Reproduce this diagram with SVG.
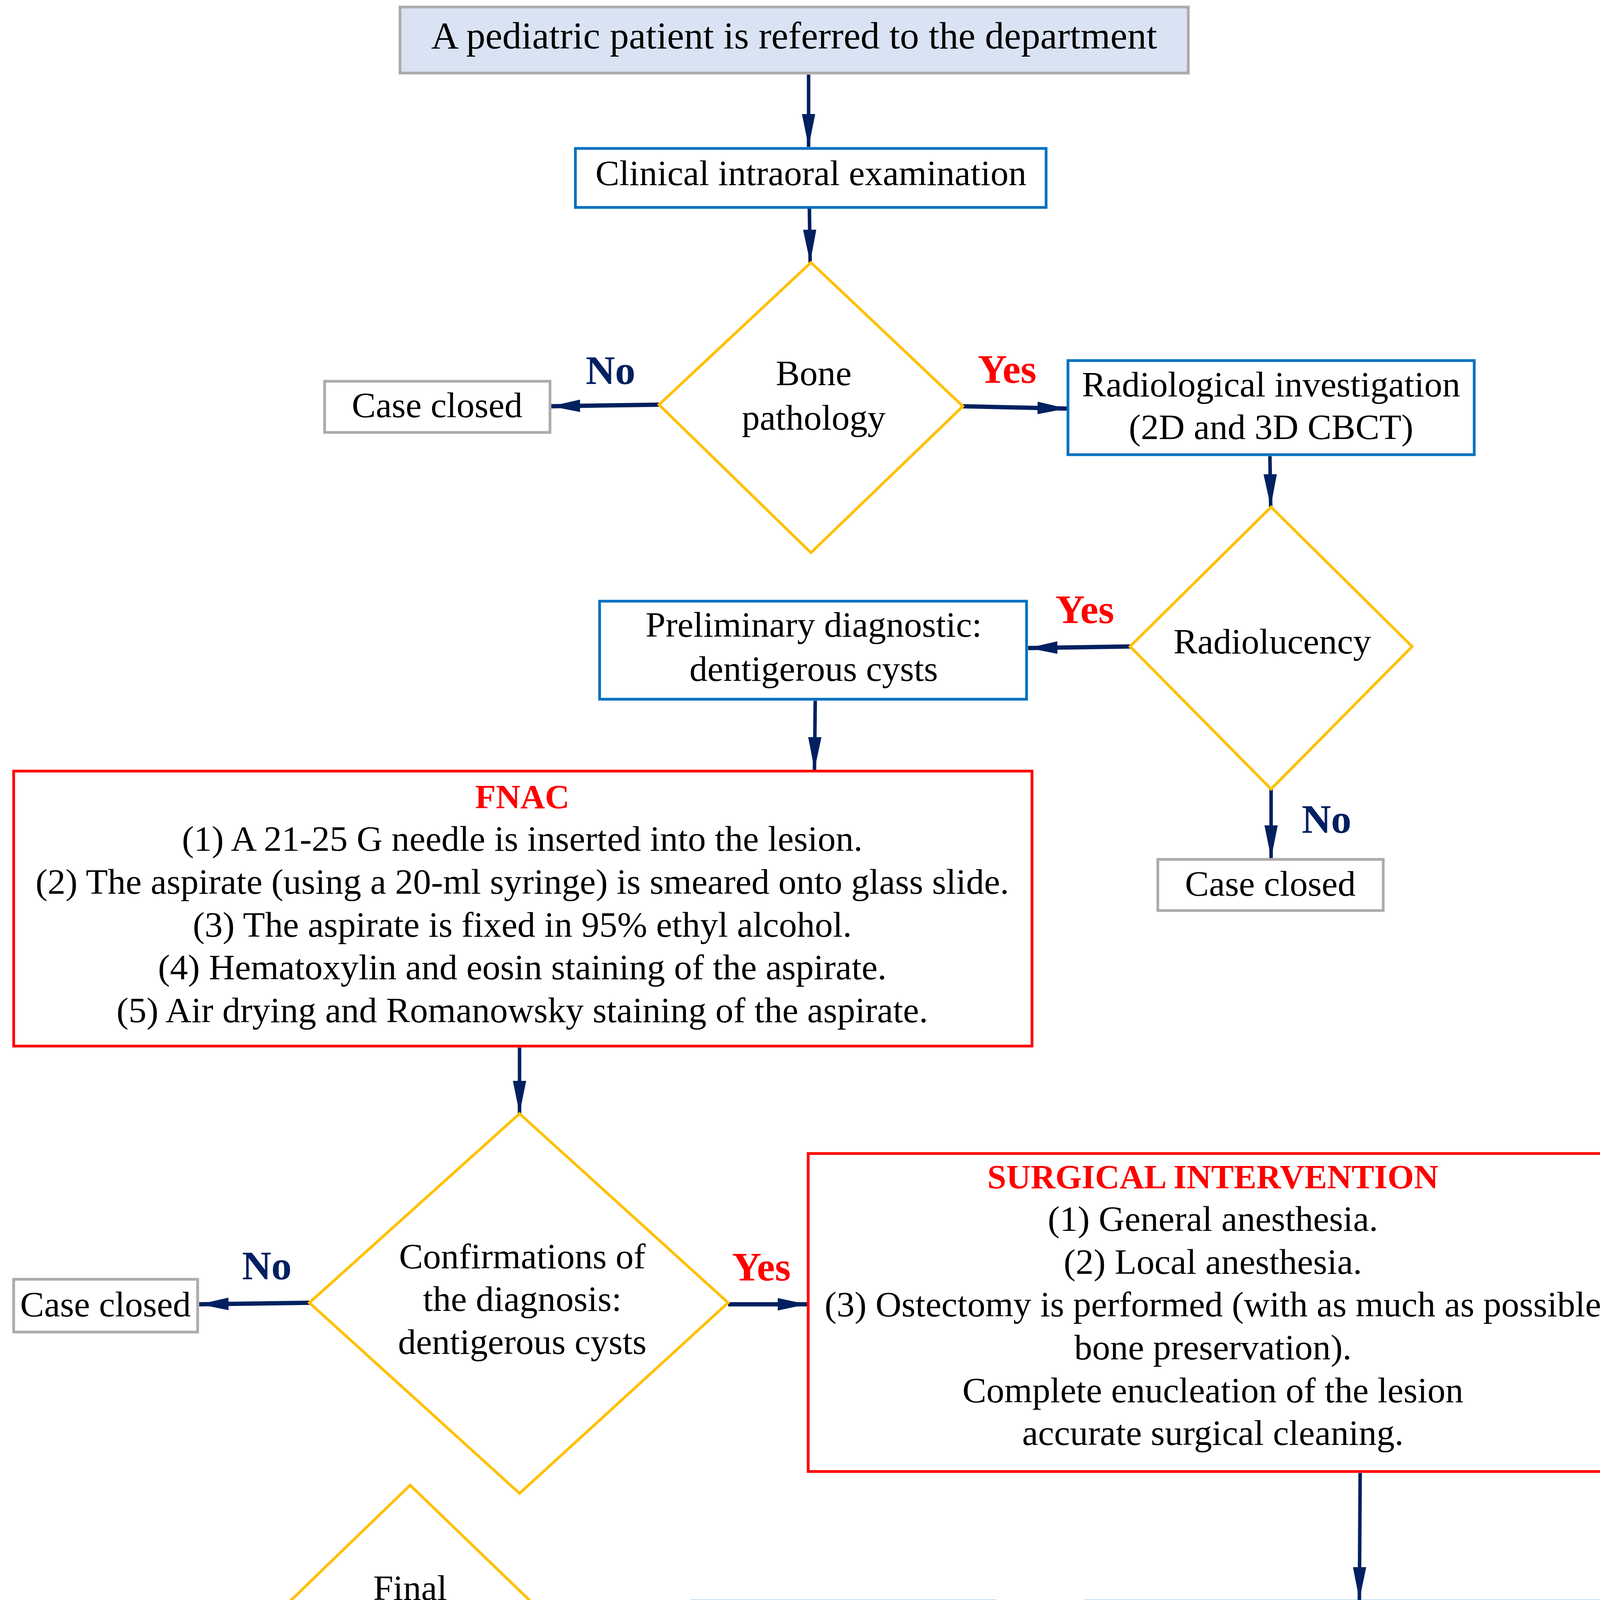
<svg xmlns="http://www.w3.org/2000/svg" width="4177" height="5521" viewBox="0 0 4177 5521">
<style>
.bb{fill:#FFFFFF;stroke:#0070C0;stroke-width:7}
.bg{fill:#FFFFFF;stroke:#AEAAAA;stroke-width:7}
.bf{fill:#DAE3F3;stroke:#AEAAAA;stroke-width:7}
.br{fill:#FFFFFF;stroke:#FF0000;stroke-width:7}
.dia{fill:#FFFFFF;stroke:#FFC000;stroke-width:7}
.t{font-family:"Liberation Serif","Times New Roman",serif;font-size:92px;text-anchor:middle;fill:#000000}
.hd{font-family:"Liberation Serif","Times New Roman",serif;font-size:87px;font-weight:bold;text-anchor:middle;fill:#FF0000}
.no{font-family:"Liberation Serif","Times New Roman",serif;font-size:104px;font-weight:bold;text-anchor:middle;fill:#002060}
.yes{font-family:"Liberation Serif","Times New Roman",serif;font-size:104px;font-weight:bold;text-anchor:middle;fill:#FF0000}
.cn{stroke:#002060;stroke-width:9;fill:none;marker-end:url(#narrow)}
.ct{stroke:#002060;stroke-width:11;fill:none;marker-end:url(#tri)}
</style>
<defs>
<marker id="narrow" markerUnits="userSpaceOnUse" markerWidth="90" markerHeight="40" refX="84" refY="17" orient="auto">
<path d="M0,0 L84,17 L0,34 Z" fill="#002060"/>
</marker>
<marker id="tri" markerUnits="userSpaceOnUse" markerWidth="80" markerHeight="36" refX="75" refY="16" orient="auto">
<path d="M0,0 L75,16 L0,32 Z" fill="#002060"/>
</marker>
</defs>

<g id="connectors">
<line class="cn" x1="2070" y1="191" x2="2070" y2="376"/>
<line class="cn" x1="2072" y1="534" x2="2074" y2="672"/>
<line class="ct" x1="1687" y1="1036" x2="1410" y2="1040"/>
<line class="ct" x1="2465" y1="1040" x2="2731" y2="1046"/>
<line class="cn" x1="3251" y1="1168" x2="3253" y2="1298"/>
<line class="ct" x1="2893" y1="1655" x2="2632" y2="1659"/>
<line class="cn" x1="3254" y1="2020" x2="3254" y2="2197"/>
<line class="cn" x1="2087" y1="1794" x2="2085" y2="1971"/>
<line class="cn" x1="1330" y1="2682" x2="1330" y2="2851"/>
<line class="ct" x1="792" y1="3335" x2="510" y2="3339"/>
<line class="ct" x1="1864" y1="3339" x2="2066" y2="3339"/>
<line class="cn" x1="3482" y1="3771" x2="3480" y2="4096"/>
<line class="ct" x1="2777" y1="4287" x2="2551" y2="4290"/>
<line class="ct" x1="1769" y1="4287" x2="1556" y2="4290"/>
<line class="ct" x1="545" y1="4290" x2="368" y2="4293"/>
<polyline class="cn" points="1050,4775 1050,4865 584,4863 586,4956"/>
<line class="ct" x1="1086" y1="5079" x2="1249" y2="5079"/>
<line class="ct" x1="2366" y1="4962" x2="2497" y2="4962"/>
<line class="ct" x1="3668" y1="4962" x2="3845" y2="4955"/>
<text class="no" x="1563" y="983">No</text>
<text class="yes" x="2578" y="980">Yes</text>
<text class="yes" x="2777" y="1595">Yes</text>
<text class="no" x="3396" y="2132">No</text>
<text class="no" x="683" y="3275">No</text>
<text class="yes" x="1949" y="3278">Yes</text>
<text class="no" x="474" y="4230">No</text>
<text class="yes" x="718" y="4828">Yes</text>
<text class="yes" x="3717" y="4867">Yes</text>
</g>

<g id="n-start">
<rect class="bf" x="1024" y="18" width="2018" height="169"/>
<text class="t" x="2033" y="124" style="font-size:98px">A pediatric patient is referred to the department</text>
</g>

<g id="n-clinical">
<rect class="bb" x="1473" y="380" width="1205" height="151"/>
<text class="t" x="2076" y="474">Clinical intraoral examination</text>
</g>

<g id="d-bone">
<polygon class="dia" points="2076,672 2465,1040 2076,1415 1687,1036"/>
<text class="t" x="2083" y="986">Bone</text>
<text class="t" x="2083" y="1100">pathology</text>
</g>

<g id="n-closed1">
<rect class="bg" x="831" y="976" width="577" height="131"/>
<text class="t" x="1119" y="1068">Case closed</text>
</g>

<g id="n-radio">
<rect class="bb" x="2734" y="923" width="1040" height="241"/>
<text class="t" x="3254" y="1015">Radiological investigation</text>
<text class="t" x="3254" y="1124">(2D and 3D CBCT)</text>
</g>

<g id="d-radiolucency">
<polygon class="dia" points="3254,1298 3615,1655 3254,2020 2893,1655"/>
<text class="t" x="3257" y="1673">Radiolucency</text>
</g>

<g id="n-prelim">
<rect class="bb" x="1535" y="1539" width="1093" height="251"/>
<text class="t" x="2083" y="1630">Preliminary diagnostic:</text>
<text class="t" x="2083" y="1743">dentigerous cysts</text>
</g>

<g id="n-closed2">
<rect class="bg" x="2964" y="2200" width="577" height="131"/>
<text class="t" x="3252" y="2293">Case closed</text>
</g>

<g id="n-fnac">
<rect class="br" x="35" y="1974" width="2607" height="704"/>
<text class="hd" x="1337" y="2069">FNAC</text>
<text class="t" x="1337" y="2178">(1) A 21-25 G needle is inserted into the lesion.</text>
<text class="t" x="1337" y="2288">(2) The aspirate (using a 20-ml syringe) is smeared onto glass slide.</text>
<text class="t" x="1337" y="2398">(3) The aspirate is fixed in 95% ethyl alcohol.</text>
<text class="t" x="1337" y="2507">(4) Hematoxylin and eosin staining of the aspirate.</text>
<text class="t" x="1337" y="2617">(5) Air drying and Romanowsky staining of the aspirate.</text>
</g>

<g id="d-confirm">
<polygon class="dia" points="1330,2851 1864,3335 1330,3823 792,3335"/>
<text class="t" x="1337" y="3247">Confirmations of</text>
<text class="t" x="1337" y="3356">the diagnosis:</text>
<text class="t" x="1337" y="3466">dentigerous cysts</text>
</g>

<g id="n-closed3">
<rect class="bg" x="35" y="3275" width="471" height="135"/>
<text class="t" x="270" y="3370">Case closed</text>
</g>

<g id="n-surgical">
<rect class="br" x="2069" y="2953" width="2069" height="814"/>
<text class="hd" x="3105" y="3042">SURGICAL INTERVENTION</text>
<text class="t" x="3105" y="3151">(1) General anesthesia.</text>
<text class="t" x="3105" y="3261">(2) Local anesthesia.</text>
<text class="t" x="3105" y="3370">(3) Ostectomy is performed (with as much as possible</text>
<text class="t" x="3105" y="3480">bone preservation).</text>
<text class="t" x="3105" y="3590">Complete enucleation of the lesion</text>
<text class="t" x="3105" y="3699">accurate surgical cleaning.</text>
</g>

<g id="n-lesion">
<rect class="bb" x="2780" y="4099" width="1369" height="244"/>
<text class="t" x="3466" y="4195">Lesion is collected and immersed in</text>
<text class="t" x="3466" y="4304">10% formaldehyde solution.</text>
</g>

<g id="n-histo">
<rect class="bb" x="1772" y="4099" width="775" height="244"/>
<text class="t" x="2158" y="4195">Histopathological</text>
<text class="t" x="2158" y="4304">examination</text>
</g>

<g id="d-final">
<polygon class="dia" points="1050,3802 1556,4290 1050,4775 545,4290"/>
<text class="t" x="1050" y="4096">Final</text>
<text class="t" x="1050" y="4205">confirmations of</text>
<text class="t" x="1050" y="4315">the diagnosis of</text>
<text class="t" x="1050" y="4424">dentigerous cysts</text>
</g>

<g id="n-closed4">
<rect class="bg" x="53" y="4163" width="311" height="255"/>
<text class="t" x="209" y="4255">Case</text>
<text class="t" x="209" y="4361">closed</text>
</g>

<g id="n-clinreexam">
<rect class="bb" x="46" y="4959" width="1036" height="244"/>
<text class="t" x="566" y="5051">Clinical reexamination,</text>
<text class="t" x="566" y="5160">9 months after the surgery</text>
</g>

<g id="n-radreexam">
<rect class="bb" x="1252" y="4853" width="1111" height="445"/>
<text class="t" x="1807" y="4944">Radiological reexamination,</text>
<text class="t" x="1807" y="5054">9 months after the surgery:</text>
<text class="t" x="1807" y="5164">panoramic and cross-</text>
<text class="t" x="1807" y="5270">sectional CBCT</text>
</g>

<g id="d-healing">
<polygon class="dia" points="3084,4418 3668,4962 3084,5511 2497,4962"/>
<text class="t" x="3084" y="4771">Complete healing</text>
<text class="t" x="3084" y="4881">with no</text>
<text class="t" x="3084" y="4990">resorption at the</text>
<text class="t" x="3084" y="5100">level of the</text>
<text class="t" x="3084" y="5210">neighboring teeth</text>
</g>

<g id="n-solved">
<rect class="bf" x="3848" y="4821" width="308" height="262"/>
<text class="t" x="4002" y="4916">Case</text>
<text class="t" x="4002" y="5022">solved</text>
</g>
</svg>
